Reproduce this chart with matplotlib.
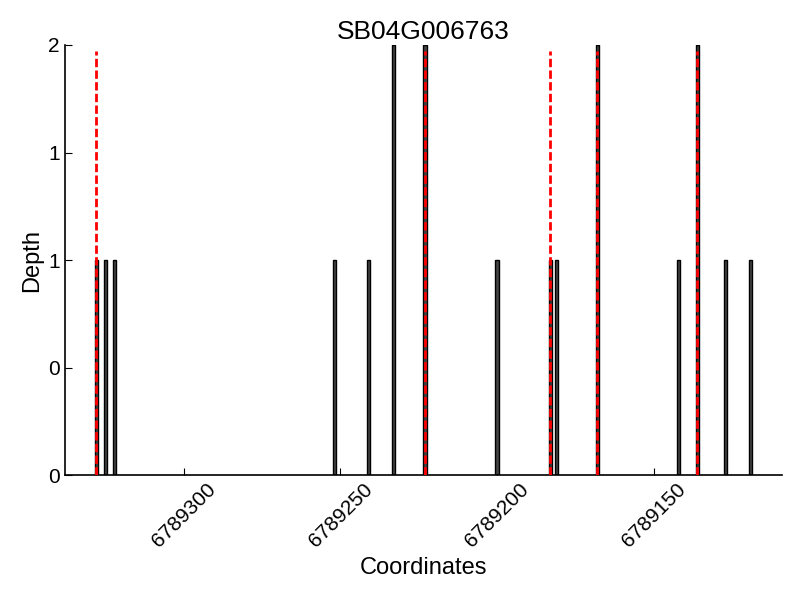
import numpy as np
import matplotlib.pyplot as plt
from matplotlib.ticker import FormatStrFormatter

plt.rcParams['font.family'] = ['Liberation Sans', 'DejaVu Sans']

# read depth
positions = [6789328, 6789325, 6789322, 6789252, 6789241, 6789233, 6789223,
             6789200, 6789183, 6789181, 6789168, 6789142, 6789136, 6789127,
             6789119]
depths = [1, 1, 1, 1, 1, 2, 2, 1, 1, 1, 2, 1, 2, 1, 1]

# marked sites
marks = [6789328, 6789223, 6789183, 6789168, 6789136]

x_ticks = [6789300, 6789250, 6789200, 6789150]
y_ticks = [0, 0.5, 1, 1.5, 2]

fig = plt.figure(figsize=(8, 6), dpi=100)
ax = fig.add_axes([0.081, 0.2083, 0.8965, 0.7167])

ax.bar(positions, depths, width=1.0, color='#444444', edgecolor='black',
       linewidth=1, zorder=2)
ax.vlines(marks, 0, 1.97, colors='red', linestyles=(0, (3, 1.2)),
          linewidth=2, zorder=3)

ax.set_xlim(6789338, 6789109)
ax.set_ylim(0, 2)
ax.set_xticks(x_ticks)
ax.set_xticklabels([str(t) for t in x_ticks], rotation=45, ha='center',
                   fontsize=15)
ax.set_yticks(y_ticks)
ax.yaxis.set_major_formatter(FormatStrFormatter('%d'))
ax.tick_params(axis='y', labelsize=15)
ax.tick_params(direction='in', length=5)

for s in ['top', 'right']:
    ax.spines[s].set_visible(False)
for s in ['left', 'bottom']:
    ax.spines[s].set_linewidth(1.2)

ax.set_title('SB04G006763', fontsize=19, pad=4)
ax.set_xlabel('Coordinates', fontsize=17)
ax.set_ylabel('Depth', fontsize=17)

fig.savefig('out.png', dpi=100)
